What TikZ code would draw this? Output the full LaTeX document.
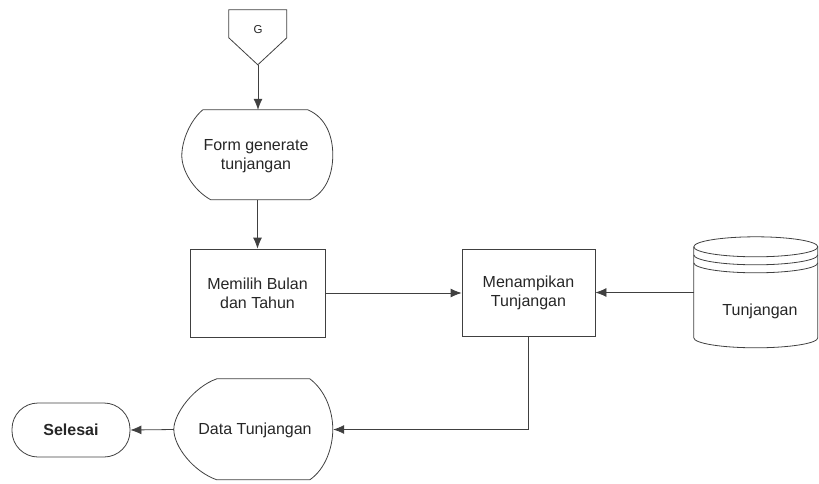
\documentclass[tikz,border=0pt]{standalone}
\usepackage{fontspec}
\setmainfont{Liberation Sans}
\usetikzlibrary{arrows.meta,calc}
\begin{document}
\begin{tikzpicture}[x=1pt,y=-1pt,
  outl/.style={draw=black!75,line width=0.8pt},
  arr/.style={draw=black!75,line width=0.8pt,-{Latex[length=11pt,width=9pt]}},
  box/.style={inner sep=0pt},
  lbl/.style={font=\fontsize{16}{19}\selectfont,text=black!85,align=center,inner sep=0pt},
  glbl/.style={font=\fontsize{11.5}{13}\selectfont,text=black!85,inner sep=0pt}]
\useasboundingbox (0,0) rectangle (819,483);

% nodes (boxes)
\node[box,minimum width=58pt,minimum height=55pt] (g) at (258,37.5) {};
\node[box,minimum width=151pt,minimum height=90pt] (form) at (257.5,155) {};
\node[lbl,draw=black!75,line width=0.8pt,minimum width=135pt,minimum height=88pt] (mem) at (257.5,293) {Memilih Bulan\\dan Tahun};
\node[lbl,draw=black!75,line width=0.8pt,minimum width=133pt,minimum height=87pt] (men) at (528.5,293) {Menampikan\\Tunjangan};
\node[box,minimum width=124pt,minimum height=111pt] (db) at (756,292.5) {};
\node[box,minimum width=159pt,minimum height=101pt] (data) at (253.5,429.5) {};
\node[lbl,draw=black!75,line width=0.8pt,rounded corners=26pt,minimum width=118pt,minimum height=54pt,font=\fontsize{16}{19}\selectfont\bfseries] (end) at (71,430) {Selesai};

% off-page connector G
\begin{scope}[shift={(g.north west)}]
\draw[outl] (0,0) -- (58,0) -- (58,28) -- (29,55) -- (0,28) -- cycle;
\end{scope}

% display: Form generate tunjangan
\begin{scope}[shift={(form.north west)}]
\draw[outl] (21,0) -- (126,0) .. controls (145,8) and (151,28) .. (151,45)
  .. controls (151,63) and (145,82) .. (128,90) -- (29,90)
  .. controls (11,80) and (0,60) .. (0,46) .. controls (0,30) and (9,10) .. (21,0) -- cycle;
\end{scope}

% display: Data Tunjangan
\begin{scope}[shift={(data.north west)}]
\draw[outl] (43,0) -- (136,0) .. controls (152,12) and (159,33) .. (159,50.5)
  .. controls (159,68) and (152,90) .. (136,101) -- (43,101)
  .. controls (20,93) and (0,68) .. (0,50.5) .. controls (0,35) and (20,8) .. (43,0) -- cycle;
\end{scope}

% cylinder
\begin{scope}[shift={(db.north west)}]
\draw[outl] (0,10) -- (0,101) arc[start angle=180,end angle=360,x radius=62pt,y radius=10pt] -- (124,10);
\draw[outl] (62,10) ellipse [x radius=62pt,y radius=10pt];
\draw[outl] (0,18) arc[start angle=180,end angle=360,x radius=62pt,y radius=10pt];
\draw[outl] (0,26) arc[start angle=180,end angle=360,x radius=62pt,y radius=10pt];
\end{scope}

% labels
\node[glbl] (gl) at (258,30) {G};
\node[lbl] (forml) at (256,156) {Form generate\\tunjangan};
\node[lbl] (dbl) at (760,311) {Tunjangan};
\node[lbl] (datal) at (255,430) {Data Tunjangan};

% connectors
\draw[arr] (g.south) -- (g.south |- form.north);
\draw[arr] (form.south -| mem.north) -- (mem.north);
\draw[arr] (mem.east) -- (men.west);
\draw[arr] (db.west) -- (db.west -| men.east);
\draw[arr] (men.south) |- (data.east);
\draw[arr] (data.west) -- (end.east);
\end{tikzpicture}
\end{document}
